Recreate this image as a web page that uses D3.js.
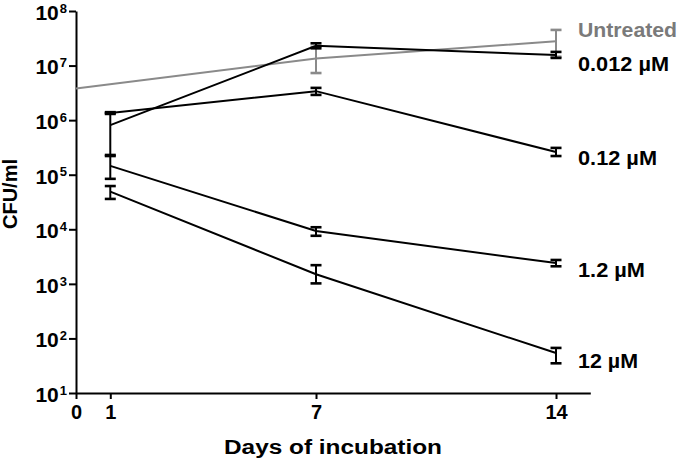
<!DOCTYPE html>
<meta charset="utf-8">
<style type="text/css">
body {
  margin: 0;
  background: #fff;
  font-family: "Liberation Sans", Arial, sans-serif;
}

text {
  font-weight: bold;
  fill: #000;
}

.axis path,
.axis line {
  fill: none;
  stroke: #000;
  stroke-width: 2px;
}

.axis text {
  font-size: 20px;
  font-family: "Liberation Sans", Arial, sans-serif;
}

.series {
  fill: none;
  stroke: #000;
  stroke-width: 2px;
}

.err {
  stroke: #000;
  stroke-width: 2px;
}

.cap {
  stroke: #000;
  stroke-width: 2.6px;
}
</style>
<body>
</body>

<script src="https://d3js.org/d3.v7.min.js"></script>
<script>
// values
var days = [1, 7, 14];
var untreatedDays = [0, 7, 14];

var untreated   = [3.8e6, 1.35e7, 2.8e7];
var untreatedHi = [null, 2.2e7, 4.5e7];
var untreatedLo = [null, 7.3e6, 1.45e7];

var c0012   = [8.1e5, 2.3e7, 1.56e7];
var c0012Hi = [1.35e6, 2.56e7, 1.78e7];
var c0012Lo = [2.3e5, 2.07e7, 1.38e7];

var c012   = [1.35e6, 3.4e6, 2.6e5];
var c012Hi = [1.4e6, 3.9e6, 3.1e5];
var c012Lo = [1.3e6, 2.9e6, 2.2e5];

var c12   = [1.45e5, 9.3e3, 2.4e3];
var c12Hi = [2.2e5, 1.09e4, 2.74e3];
var c12Lo = [8.4e4, 7.6e3, 2.1e3];

var c120   = [4.9e4, 1.5e3, 54];
var c120Hi = [6.2e4, 2.2e3, 67];
var c120Lo = [3.6e4, 1.02e3, 35];

var seriesNames = ["Untreated", "0.012 µM", "0.12 µM", "1.2 µM", "12 µM"];

var yTicks = [1e1, 1e2, 1e3, 1e4, 1e5, 1e6, 1e7, 1e8];
var xTicks = [0, 1, 7, 14];

var margin = { top: 11, right: 90, bottom: 68, left: 76 };
var width = 680 - margin.left - margin.right;
var height = 461 - margin.top - margin.bottom;

var svg = d3.select("body")
  .append("svg")
    .attr("width", 680)
    .attr("height", 461)
  .append("g")
    .attr("transform", "translate(" + margin.left + "," + margin.top + ")");

var xscale = d3.scaleLinear()
  .domain([0, 15])
  .range([0, 514.3]);

var yscale = d3.scaleLog()
  .domain([1e1, 1e8])
  .range([height, 0]);

var xAxis = d3.axisBottom(xscale)
  .tickValues(xTicks)
  .tickSize(6)
  .tickSizeOuter(0)
  .tickPadding(6);

var yAxis = d3.axisLeft(yscale)
  .tickValues(yTicks)
  .tickSize(7)
  .tickSizeOuter(0)
  .tickFormat("");

svg.append("g")
  .attr("class", "x axis")
  .attr("transform", "translate(0," + height + ")")
  .call(xAxis);

var gy = svg.append("g")
  .attr("class", "y axis")
  .call(yAxis);

// 10 with superscript exponent
gy.selectAll(".tick").each(function(d) {
  var t = d3.select(this).append("text")
    .attr("x", -9)
    .attr("dy", "0.4em")
    .attr("text-anchor", "end")
    .style("font-size", "21px");
  t.append("tspan").text("10");
  t.append("tspan")
    .attr("dx", "1")
    .attr("dy", "-0.55em")
    .style("font-size", "13px")
    .text(Math.round(Math.log10(d)));
});

var line = d3.line()
  .x(function(d) { return xscale(d[0]); })
  .y(function(d) { return yscale(d[1]); });

// label layout (y in page pixels, width in pixels)
var labelY = [30, 64, 158, 270, 361];
var labelW = [99, 91, 79, 67, 60];

var series = [
  { x: untreatedDays, v: untreated, hi: untreatedHi, lo: untreatedLo, color: "#8a8a8a" },
  { x: days, v: c0012, hi: c0012Hi, lo: c0012Lo, color: "#000" },
  { x: days, v: c012, hi: c012Hi, lo: c012Lo, color: "#000" },
  { x: days, v: c12, hi: c12Hi, lo: c12Lo, color: "#000" },
  { x: days, v: c120, hi: c120Hi, lo: c120Lo, color: "#000" }
];

series.forEach(function(s, k) {
  var pts = s.x.map(function(d, i) { return [d, s.v[i]]; });
  var g = svg.append("g");

  g.append("path")
    .attr("class", "series")
    .attr("d", line(pts))
    .style("stroke", s.color);

  s.x.forEach(function(d, i) {
    if (s.hi[i] == null) return;
    var cx = xscale(d);
    g.append("line")
      .attr("class", "err")
      .attr("x1", cx).attr("x2", cx)
      .attr("y1", yscale(s.hi[i])).attr("y2", yscale(s.lo[i]))
      .style("stroke", s.color);
    [s.hi[i], s.lo[i]].forEach(function(v) {
      g.append("line")
        .attr("class", "cap")
        .attr("x1", cx - 5.5).attr("x2", cx + 5.5)
        .attr("y1", yscale(v)).attr("y2", yscale(v))
        .style("stroke", s.color);
    });
  });

  svg.append("text")
    .attr("x", 502)
    .attr("y", labelY[k] - margin.top)
    .attr("dy", "0.35em")
    .attr("textLength", labelW[k])
    .attr("lengthAdjust", "spacingAndGlyphs")
    .style("font-size", "20px")
    .style("fill", k == 0 ? "#7a7a7a" : "#000")
    .text(seriesNames[k]);
});

svg.append("text")
  .attr("transform", "translate(" + (10 - margin.left) + "," + (194 - margin.top) + ") rotate(-90)")
  .attr("text-anchor", "middle")
  .attr("dy", "0.35em")
  .style("font-size", "20px")
  .text("CFU/ml");

svg.append("text")
  .attr("x", 224 - margin.left)
  .attr("y", 454 - margin.top)
  .attr("textLength", 218)
  .attr("lengthAdjust", "spacingAndGlyphs")
  .style("font-size", "20px")
  .text("Days of incubation");
</script>
